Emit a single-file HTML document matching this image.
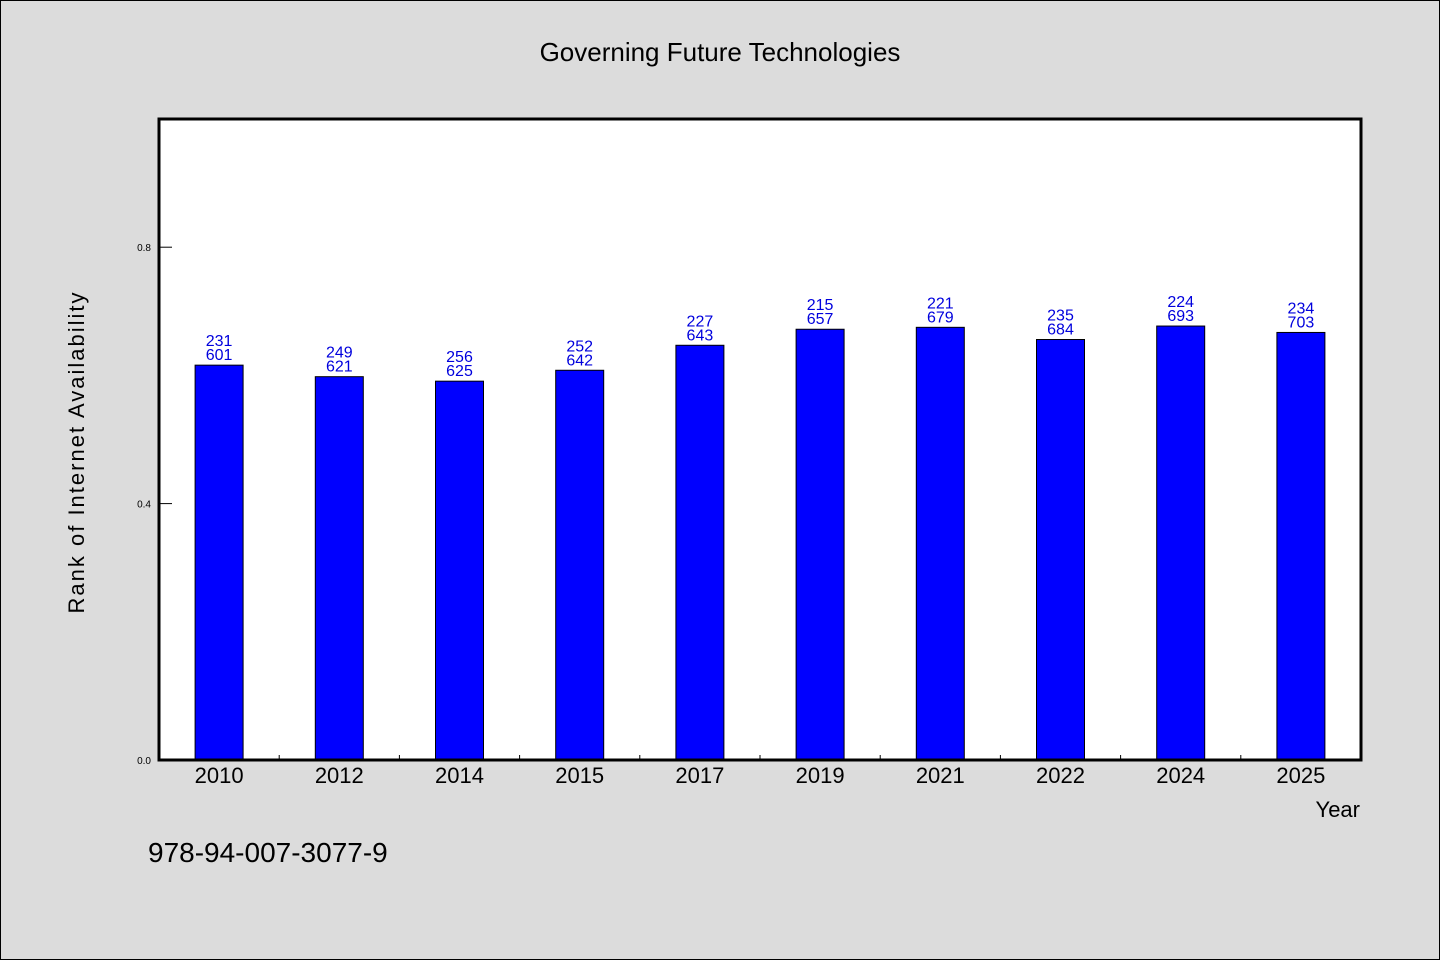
<!DOCTYPE html>
<html><head><meta charset="utf-8"><style>
body{margin:0;background:#dcdcdc;}
svg{display:block;font-family:"WenQuanYi Zen Hei","Liberation Sans",sans-serif;}
</style></head><body>
<svg id="chart" width="1440" height="960">
<rect x="0.5" y="0.5" width="1439" height="959" fill="#dcdcdc" stroke="#000"/>
<text x="720" y="61" font-size="26" text-anchor="middle">Governing Future Technologies</text>
<rect x="159" y="119" width="1202" height="641" fill="#fff"/>
<g id="bars"></g>
<g id="axes"></g>
<text x="1360" y="817" font-size="22" text-anchor="end">Year</text>
<text transform="translate(84,452) rotate(-90)" font-size="22" text-anchor="middle" letter-spacing="2">Rank of Internet Availability</text>
<text x="148" y="862" font-size="28">978-94-007-3077-9</text>
</svg>
<script>
const categories=["2010","2012","2014","2015","2017","2019","2021","2022","2024","2025"];
const values=[0.616,0.598,0.591,0.608,0.647,0.672,0.675,0.656,0.677,0.667];
const labelTop=["231","249","256","252","227","215","221","235","224","234"];
const labelBottom=["601","621","625","642","643","657","679","684","693","703"];
const yTicks=[0,0.4,0.8];
const yTickLabels=["0.0","0.4","0.8"];
const NS="http://www.w3.org/2000/svg";
const L=159,R=1361,T=119,B=760;
const y=v=>B-v*(B-T)/1.0;
const band=(R-L)/categories.length;
const x=i=>L+band*i+band/2;
function mk(tag,attrs,parent,text){const e=document.createElementNS(NS,tag);for(const k in attrs)e.setAttribute(k,attrs[k]);if(text!==undefined)e.textContent=text;parent.appendChild(e);return e;}
const gb=document.getElementById('bars'),ga=document.getElementById('axes');
categories.forEach((c,i)=>{
  const r=mk('rect',{x:x(i)-24,y:y(values[i]),width:48,height:B-y(values[i]),fill:'#0000ff',stroke:'#000','stroke-width':1},gb);
  
  
  const t1=mk('text',{x:x(i),y:y(values[i])-19,'font-size':16,fill:'#0000dd','text-anchor':'middle'},gb,labelTop[i]);
  
  
  const t2=mk('text',{x:x(i),y:y(values[i])-5,'font-size':16,fill:'#0000dd','text-anchor':'middle'},gb,labelBottom[i]);
  
  
  const xl=mk('text',{x:x(i),y:783,'font-size':22,'text-anchor':'middle'},ga,c);
  
  
  if(i>0){const tk=mk('line',{x1:L+band*i,x2:L+band*i,y1:B,y2:B-5,stroke:'#000'},ga);
  
  }
});
yTicks.forEach((v,i)=>{
  const tk=mk('line',{x1:L,x2:L+13,y1:y(v),y2:y(v),stroke:'#000'},ga);
  
  
  const tl=mk('text',{x:151,y:y(v)+4,'font-size':10,'text-anchor':'end'},ga,yTickLabels[i]);
  
  
});
const fr=mk('rect',{x:L,y:T,width:R-L,height:B-T,fill:'none',stroke:'#000','stroke-width':3},ga);


</script>
</body></html>
